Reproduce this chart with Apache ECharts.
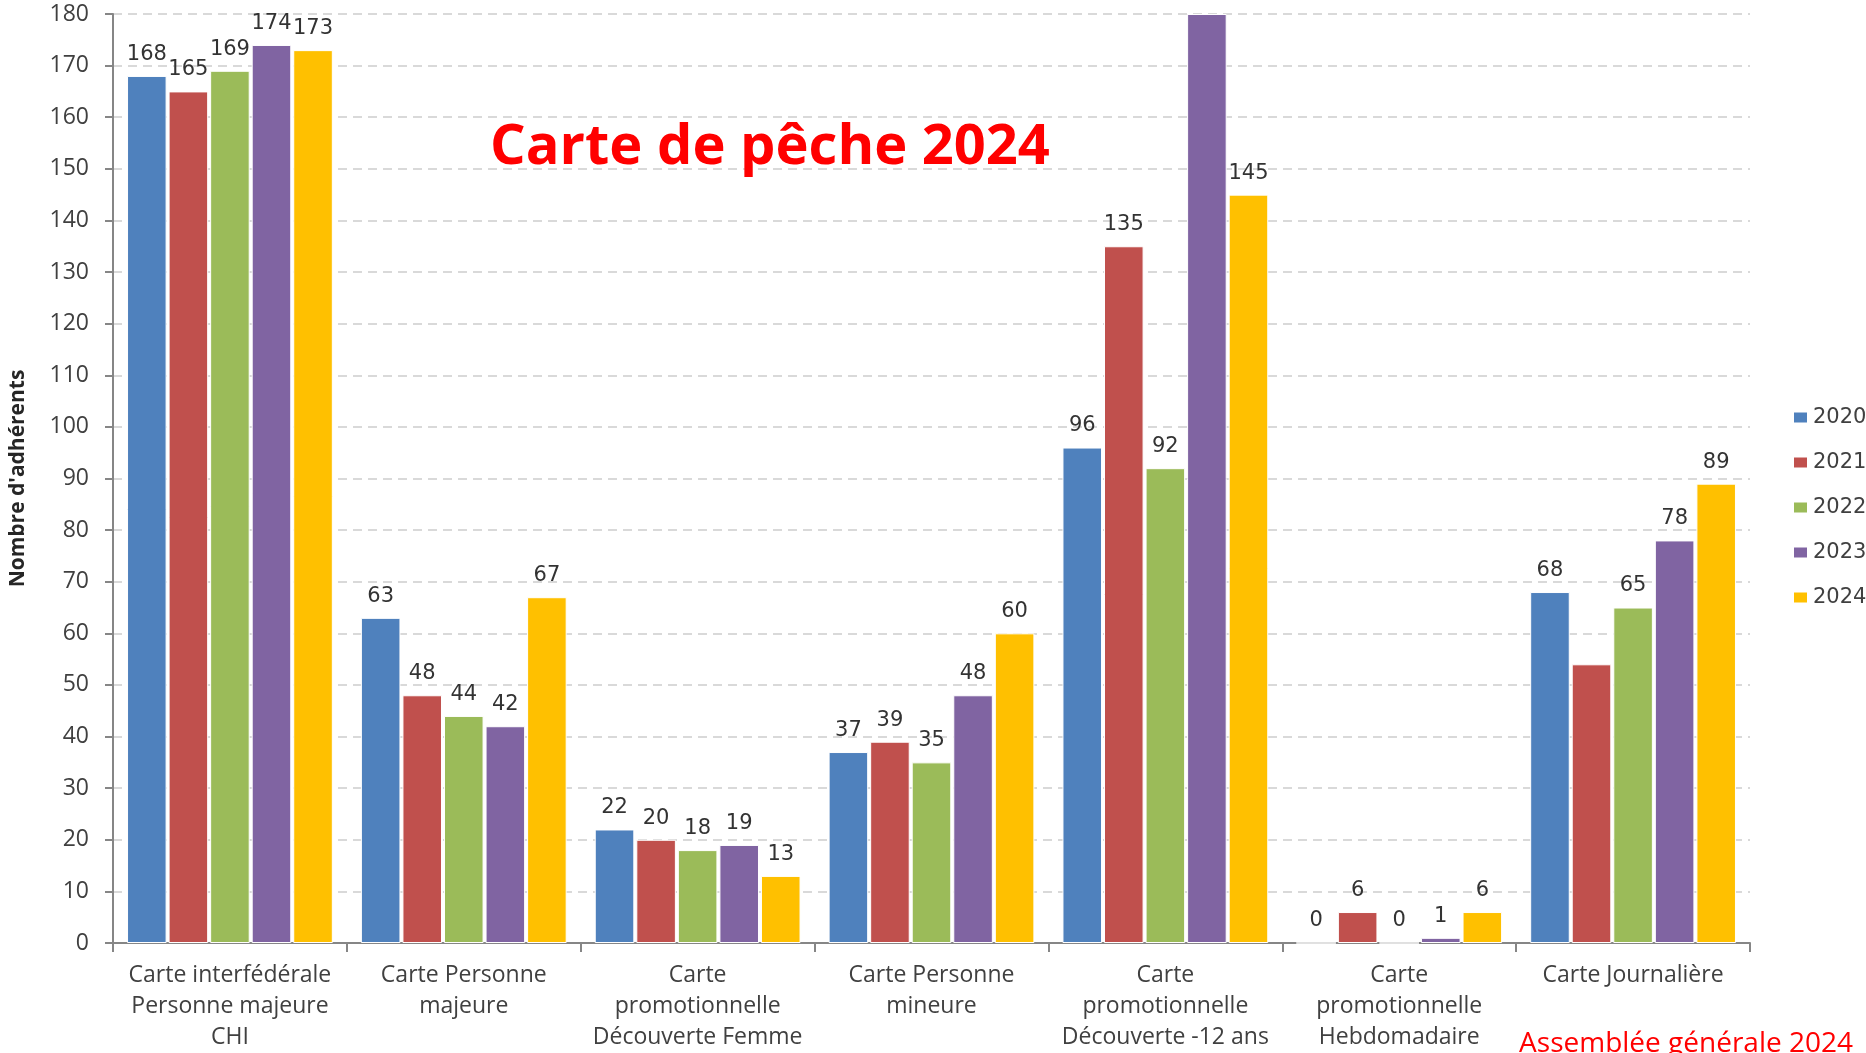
<!DOCTYPE html>
<html><head><meta charset="utf-8">
<script src="https://cdn.jsdelivr.net/npm/echarts@6/dist/echarts.min.js"></script>
<style>html,body{margin:0;padding:0;background:#fff;}#c{width:1866px;height:1053px;}</style>
</head><body><div id="c"></div>
<script>
const categories = [
  "Carte interfédérale\nPersonne majeure\nCHI",
  "Carte Personne\nmajeure",
  "Carte\npromotionnelle\nDécouverte Femme",
  "Carte Personne\nmineure",
  "Carte\npromotionnelle\nDécouverte -12 ans",
  "Carte\npromotionnelle\nHebdomadaire",
  "Carte Journalière"
];
const years = ["2020", "2021", "2022", "2023", "2024"];
const v2020 = [168, 63, 22, 37, 96, 0, 68];
const v2021 = [165, 48, 20, 39, 135, 6, 54];
const v2022 = [169, 44, 18, 35, 92, 0, 65];
const v2023 = [174, 42, 19, 48, 180, 1, 78];
const v2024 = [173, 67, 13, 60, 145, 6, 89];
// points whose value label is not shown in the reference: [seriesIndex, categoryIndex]
const hiddenLabels = [[1, 6], [3, 4]];
const yTicks = [0, 10, 20, 30, 40, 50, 60, 70, 80, 90, 100, 110, 120, 130, 140, 150, 160, 170, 180];

const colors = ["#4f81bd", "#c0504d", "#9bbb59", "#8064a2", "#ffc000"];
const seriesValues = [v2020, v2021, v2022, v2023, v2024];

const chart = echarts.init(document.getElementById('c'));
chart.setOption({
  animation: false,
  backgroundColor: '#fff',
  title: [{
    text: 'Carte de pêche 2024',
    left: 765, top: 115, textAlign: 'center',
    textStyle: { color: '#ff0000', fontSize: 56, fontWeight: 'bold', fontFamily: 'Open Sans' }
  }, {
    text: 'Assemblée générale 2024',
    right: 8, top: 1025,
    textStyle: { color: '#ff0000', fontSize: 28, fontWeight: 'normal', fontFamily: 'Open Sans' }
  }],
  legend: {
    orient: 'vertical', left: 1787, top: 402,
    itemWidth: 15, itemHeight: 12, itemGap: 24,
    data: years,
    textStyle: { fontSize: 21, color: '#404040', fontFamily: 'DejaVu Sans' },
    icon: 'rect'
  },
  grid: { left: 113, right: 116, top: 14, bottom: 108, containLabel: false },
  xAxis: {
    type: 'category', data: categories,
    axisLine: { lineStyle: { color: '#868686', width: 2 } },
    axisTick: { show: true, length: 9, lineStyle: { color: '#868686', width: 2 } },
    axisLabel: { color: '#404040', fontSize: 23, lineHeight: 31, margin: 17, fontFamily: 'Open Sans', interval: 0 }
  },
  yAxis: {
    type: 'value', min: 0, max: 180, interval: 10,
    name: "Nombre d'adhérents", nameLocation: 'middle', nameGap: 84, nameRotate: 90,
    nameTextStyle: { fontSize: 21, fontWeight: 'bold', color: '#262626', fontFamily: 'Open Sans' },
    axisLine: { show: true, lineStyle: { color: '#868686', width: 2 } },
    axisTick: { show: true, length: 8, lineStyle: { color: '#868686', width: 2 } },
    axisLabel: { color: '#404040', fontSize: 23, margin: 24, fontFamily: 'Open Sans',
      formatter: v => yTicks.includes(v) ? String(v) : '' },
    splitLine: { lineStyle: { color: '#d9d9d9', type: [9, 6], width: 2 } }
  },
  series: seriesValues.map((vals, si) => ({
    name: years[si], type: 'bar',
    barGap: '5%', barCategoryGap: '12%',
    itemStyle: { color: colors[si], borderColor: '#fff', borderWidth: 1 },
    label: { show: true, position: 'top', distance: 11, color: '#333', fontSize: 21, fontFamily: 'DejaVu Sans' },
    data: vals.map((v, ci) => {
      const hide = hiddenLabels.some(h => h[0] === si && h[1] === ci);
      return hide ? { value: v, label: { show: false } } : v;
    })
  }))
});
</script></body></html>
